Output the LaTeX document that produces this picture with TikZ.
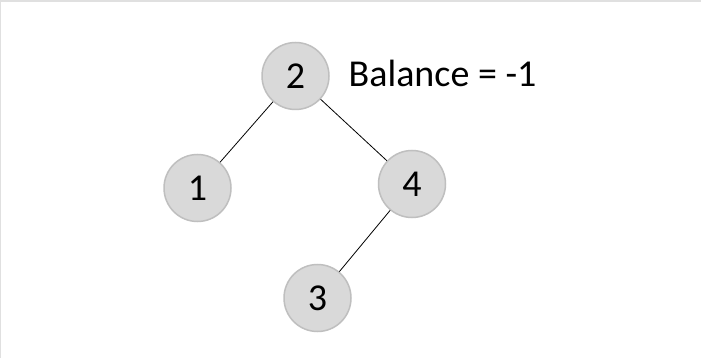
\documentclass[tikz,border=0pt]{standalone}
\usepackage{fontspec}
\setmainfont{Carlito}
\begin{document}
\begin{tikzpicture}[x=1pt,y=-1pt,
  treenode/.style={circle,draw=black!25,line width=1.5pt,fill=black!15,minimum size=67pt,inner sep=0pt,font=\fontsize{38}{42}\selectfont},
  edge/.style={draw=black,line width=0.8pt}]
\useasboundingbox (0,0) rectangle (701,358);
\fill[white] (0,0) rectangle (701,358);
\draw[black!12,line width=2pt] (0,358) -- (0,1) -- (701,1);
\node[treenode] (n2) at (295.5,76) {2};
\node[treenode] (n1) at (197.5,188) {1};
\node[treenode] (n4) at (412,184) {4};
\node[treenode] (n3) at (317.5,298) {3};
\node[anchor=base west,inner sep=0pt,font=\fontsize{38}{42}\selectfont] (bal) at (348.5,86.5) {Balance = -1};
\draw[edge] (n2) -- (n1);
\draw[edge] (n2) -- (n4);
\draw[edge] (n4) -- (n3);
\end{tikzpicture}
\end{document}
